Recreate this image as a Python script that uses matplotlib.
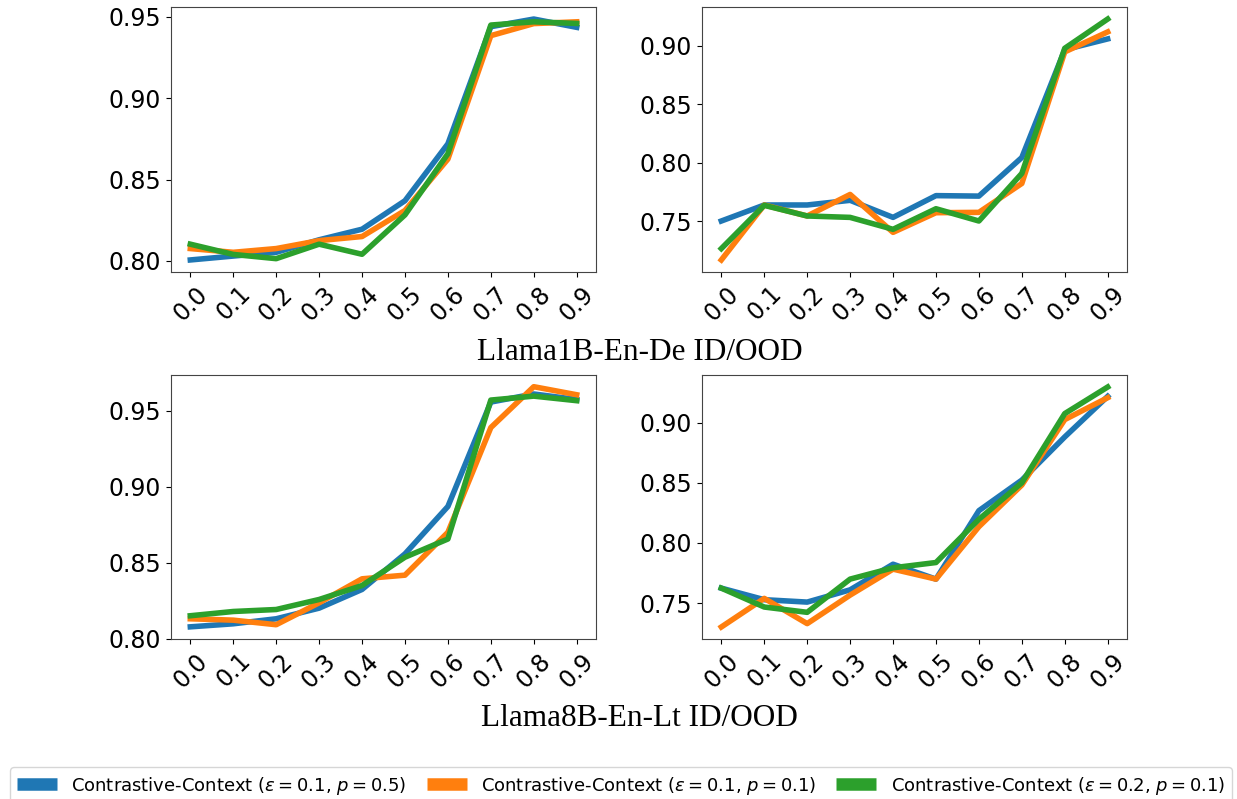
import matplotlib
matplotlib.use("Agg")
import matplotlib.pyplot as plt
import numpy as np

# x values (threshold)
xs = [0.0, 0.1, 0.2, 0.3, 0.4, 0.5, 0.6, 0.7, 0.8, 0.9]
xlabels = ["0.0", "0.1", "0.2", "0.3", "0.4", "0.5", "0.6", "0.7", "0.8", "0.9"]

labels = [r"Contrastive-Context ($\epsilon = 0.1$, $p = 0.5$)",
          r"Contrastive-Context ($\epsilon = 0.1$, $p = 0.1$)",
          r"Contrastive-Context ($\epsilon = 0.2$, $p = 0.1$)"]
colors = ["#1f77b4", "#ff7f0e", "#2ca02c"]

# Llama1B-En-De, ID
b1_id_a = [0.8006, 0.803, 0.8053, 0.813, 0.8195, 0.837, 0.872, 0.944, 0.9487, 0.9436]
b1_id_b = [0.8076, 0.8053, 0.8076, 0.8125, 0.815, 0.831, 0.8626, 0.9385, 0.9459, 0.947]
b1_id_c = [0.8103, 0.804, 0.8014, 0.8103, 0.8041, 0.8283, 0.8659, 0.945, 0.947, 0.946]

# Llama1B-En-De, OOD
b1_ood_a = [0.7503, 0.764, 0.764, 0.768, 0.7534, 0.772, 0.7716, 0.8046, 0.8968, 0.906]
b1_ood_b = [0.717, 0.764, 0.7546, 0.773, 0.7406, 0.7574, 0.7577, 0.7824, 0.8949, 0.912]
b1_ood_c = [0.7267, 0.7637, 0.7546, 0.7534, 0.7432, 0.7608, 0.7503, 0.791, 0.898, 0.923]

# Llama8B-En-Lt, ID
b8_id_a = [0.8078, 0.8098, 0.8131, 0.8201, 0.8324, 0.8558, 0.887, 0.9557, 0.961, 0.9574]
b8_id_b = [0.8131, 0.8122, 0.8092, 0.8236, 0.8394, 0.8418, 0.870, 0.9389, 0.9658, 0.9605]
b8_id_c = [0.8151, 0.8179, 0.8192, 0.8258, 0.835, 0.8536, 0.8656, 0.957, 0.9596, 0.9566]

# Llama8B-En-Lt, OOD
b8_ood_a = [0.7624, 0.7528, 0.7508, 0.761, 0.7823, 0.7699, 0.8268, 0.8522, 0.8881, 0.9218]
b8_ood_b = [0.7301, 0.7539, 0.7329, 0.7566, 0.7782, 0.7699, 0.8135, 0.8481, 0.9025, 0.9207]
b8_ood_c = [0.7624, 0.7467, 0.7423, 0.7699, 0.7793, 0.7837, 0.8196, 0.850, 0.9075, 0.9296]

panels = [
    [b1_id_a, b1_id_b, b1_id_c],
    [b1_ood_a, b1_ood_b, b1_ood_c],
    [b8_id_a, b8_id_b, b8_id_c],
    [b8_ood_a, b8_ood_b, b8_ood_c],
]
ylims = [None, None, (0.7998, 0.9735), None]

fig = plt.figure(figsize=(12.37, 7.99), dpi=100)

W, H = 1237, 799
boxes = [(171, 7, 596, 272), (702, 7, 1127, 272),
         (171, 375, 596, 639), (702, 375, 1127, 639)]

handles = None
for box, series, yl in zip(boxes, panels, ylims):
    l, t, r, b = box
    ax = fig.add_axes([l / W, 1 - b / H, (r - l) / W, (b - t) / H])
    hs = []
    for ys, c, lab in zip(series, colors, labels):
        h, = ax.plot(xs, ys, color=c, linewidth=4, label=lab)
        hs.append(h)
    handles = hs
    if yl is not None:
        ax.set_ylim(*yl)
    ax.set_xticks(xs)
    ax.set_xticklabels(xlabels, rotation=45)
    ax.tick_params(axis="both", labelsize=17)
    for s in ax.spines.values():
        s.set_color("#444444")

fig.text(0.517, 1 - 352 / H, "Llama1B-En-De ID/OOD", ha="center", va="center",
         fontsize=22.5, family="Liberation Serif")
fig.text(0.517, 1 - 718 / H, "Llama8B-En-Lt ID/OOD", ha="center", va="center",
         fontsize=22.5, family="Liberation Serif")

leg = fig.legend(handles, labels, loc="lower left", ncol=3, mode="expand",
                 bbox_to_anchor=(10 / W, -0.006, (1232 - 10) / W, 0.05),
                 fontsize=13, handlelength=2.2, borderaxespad=0.0)
for lh in leg.legend_handles:
    lh.set_linewidth(9)
    lh.set_solid_capstyle("butt")

fig.savefig("out.png", dpi=100)
